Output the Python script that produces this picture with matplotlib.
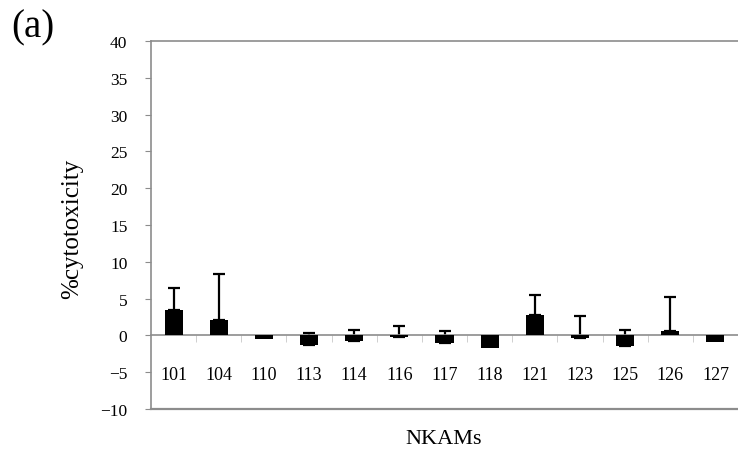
import numpy as np
import matplotlib.pyplot as plt

# NKAM clones and measured % cytotoxicity (mean and upper error)
nkams = ['101', '104', '110', '113', '114', '116', '117', '118',
         '121', '123', '125', '126', '127']
cytotoxicity = [3.45, 2.1, -0.5, -1.25, -0.8, -0.15, -1.1, -1.7,
                2.8, -0.4, -1.4, 0.55, -0.95]
err_plus = [3.0, 6.3, 0.0, 1.55, 1.6, 1.4, 1.65, 0.0,
            2.65, 3.1, 2.1, 4.7, 0.0]
yticks = [-10, -5, 0, 5, 10, 15, 20, 25, 30, 35, 40]

plt.rcParams['font.family'] = 'Liberation Serif'
gray = '#8c8c8c'

fig = plt.figure(figsize=(7.38, 4.56), dpi=100)
ax = fig.add_axes([151 / 738, 1 - 410 / 456, 1 - 151 / 738, 368 / 456])

x = np.arange(len(nkams))
ax.bar(x, cytotoxicity, width=0.4, color='black', zorder=3)

# only the plus side of the error bars is shown
idx = [i for i, e in enumerate(err_plus) if e > 0]
ax.errorbar(x[idx], [cytotoxicity[i] for i in idx],
            yerr=[[0] * len(idx), [err_plus[i] for i in idx]],
            fmt='none', ecolor='black', elinewidth=1.6, capsize=4,
            capthick=1.6, zorder=2)

ax.set_xlim(-0.5, len(nkams) - 0.5)
ax.set_ylim(-10, 40)
ax.set_yticks(yticks)
ax.set_yticklabels([str(v).replace('-', '\u2212') for v in yticks], fontsize=12.5)

# category axis sits on zero, labels pushed down below it
ax.spines['bottom'].set_position(('data', 0))
ax.spines['bottom'].set_color(gray)
ax.spines['left'].set_color(gray)
ax.spines['top'].set_color(gray)
ax.spines['right'].set_visible(False)
ax.axhline(-10, color=gray, lw=1.6, clip_on=False)
for s in ['left', 'top', 'bottom']:
    ax.spines[s].set_linewidth(1.2)

ax.set_xticks(x)
ax.set_xticklabels(nkams, fontsize=13)
ax.set_xticks(np.arange(0.5, len(nkams) - 0.5, 1), minor=True)
ax.tick_params(axis='x', which='major', length=0, pad=22)
ax.tick_params(axis='x', which='minor', length=5, color='#c8c8c8', direction='out')
ax.tick_params(axis='y', length=4, color=gray, pad=13)

fig.text(72 / 738, 1 - 229 / 456, '%cytotoxicity', fontsize=18, rotation=90,
         ha='center', va='center')
fig.text(444 / 738, 1 - 440 / 456, 'NKAMs', fontsize=16, ha='center', va='center')
fig.text(33 / 738, 1 - 28 / 456, '(a)', fontsize=28, ha='center', va='center')

plt.savefig('out.png', dpi=100)
